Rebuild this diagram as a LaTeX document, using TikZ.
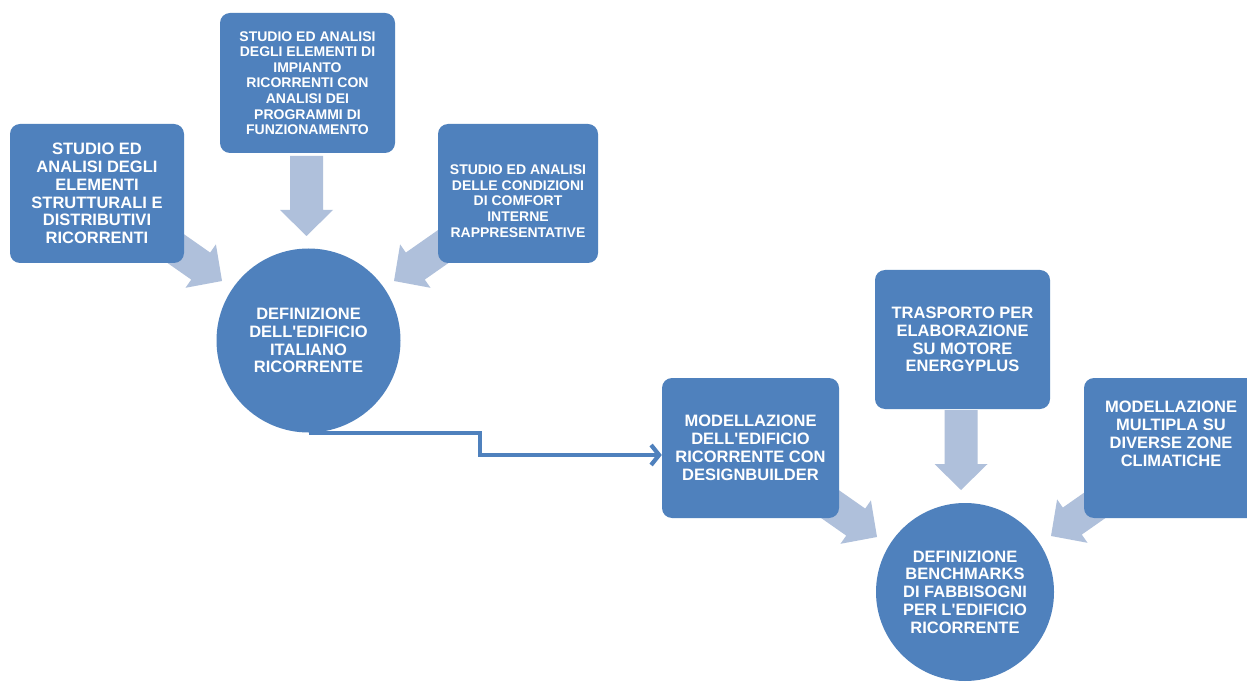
\documentclass[tikz,border=0pt]{standalone}
\usepackage{fontspec}
\newfontfamily\labfont{Liberation Sans}
\usetikzlibrary{arrows.meta,calc}
\definecolor{boxblue}{HTML}{4F81BD}
\definecolor{arrowblue}{HTML}{AFC0DB}
\tikzset{
  box/.style={rectangle, rounded corners=10pt, fill=boxblue, inner sep=0pt, text=white, align=center},
  disc/.style={circle, fill=boxblue, inner sep=0pt, text=white, align=center},
  txt/.style={inner sep=0pt, text=white, align=center},
  bigfont/.style={font={\labfont\bfseries\fontsize{16.5}{17.8}\selectfont}},
  smallfont/.style={font={\labfont\bfseries\fontsize{14}{15.6}\selectfont}},
  conn/.style={draw=boxblue, line width=4.2pt, -{Straight Barb[length=8pt,width=20pt]}},
  barrow/.pic={\fill[arrowblue] (0,0) -- (-26,26.5) -- (-26,16.5) -- (-80,16.5) -- (-80,-16.5) -- (-26,-16.5) -- (-26,-26.5) -- cycle;}
}
\begin{document}
\begin{tikzpicture}[x=1pt,y=-1pt]
\clip (0,0) rectangle (1247,684);
\fill[white] (0,0) rectangle (1247,684);
% block arrows (behind shapes)
\pic[rotate=-35] at (222,281) {barrow};
\pic[rotate=-90] at (306.5,236) {barrow};
\pic[rotate=215] at (394,281) {barrow};
\pic[rotate=-35] at (877,537) {barrow};
\pic[rotate=-90] at (961,490) {barrow};
\pic[rotate=215] at (1051,536) {barrow};
% shapes
\node[box, bigfont, minimum width=174pt, minimum height=139pt] (a) at (97,193.5)
  {STUDIO ED\\ANALISI DEGLI\\ELEMENTI\\STRUTTURALI E\\DISTRIBUTIVI\\RICORRENTI};
\node[box, smallfont, minimum width=175pt, minimum height=140pt] (b) at (307.5,83)
  {STUDIO ED ANALISI\\DEGLI ELEMENTI DI\\IMPIANTO\\RICORRENTI CON\\ANALISI DEI\\PROGRAMMI DI\\FUNZIONAMENTO};
\node[box, minimum width=160pt, minimum height=139pt] (c) at (518,193.5) {};
\node[txt, smallfont] (ct) at (518,201)
  {STUDIO ED ANALISI\\DELLE CONDIZIONI\\DI COMFORT\\INTERNE\\RAPPRESENTATIVE};
\node[disc, bigfont, minimum size=184pt] (c1) at (308.5,340.5)
  {DEFINIZIONE\\DELL'EDIFICIO\\ITALIANO\\RICORRENTE};
\node[box, bigfont, minimum width=177pt, minimum height=140pt] (d) at (750.5,448)
  {MODELLAZIONE\\DELL'EDIFICIO\\RICORRENTE CON\\DESIGNBUILDER};
\node[box, bigfont, minimum width=175pt, minimum height=139pt] (e) at (962.5,339.5)
  {TRASPORTO PER\\ELABORAZIONE\\SU MOTORE\\ENERGYPLUS};
\node[box, minimum width=177pt, minimum height=140pt] (f) at (1172.5,448) {};
\node[txt, bigfont] (ft) at (1171,434)
  {MODELLAZIONE\\MULTIPLA SU\\DIVERSE ZONE\\CLIMATICHE};
\node[disc, bigfont, minimum size=178pt] (c2) at (965,592)
  {DEFINIZIONE\\BENCHMARKS\\DI FABBISOGNI\\PER L'EDIFICIO\\RICORRENTE};
% connector
\coordinate (bend) at (480,455);
\draw[conn] (c1.south) -| (bend) -- (d.west |- bend);
\end{tikzpicture}
\end{document}
